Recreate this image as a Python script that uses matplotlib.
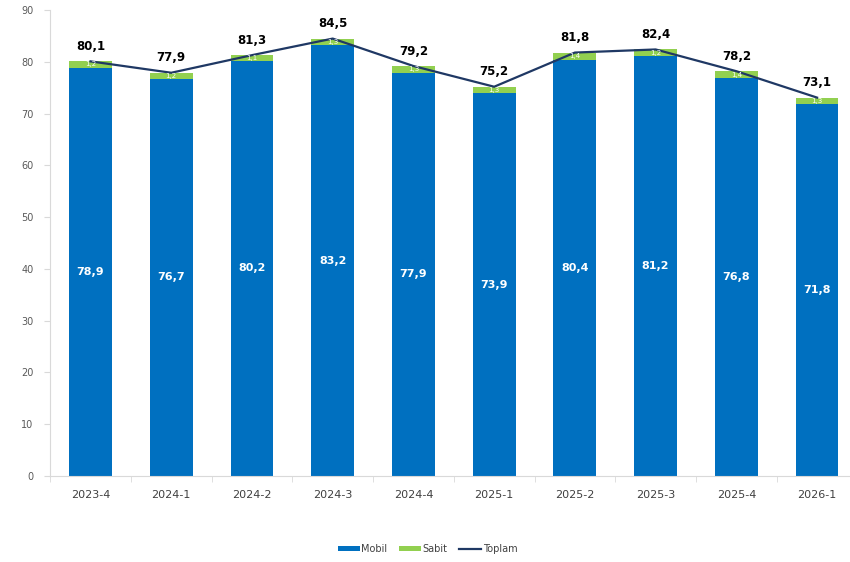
import numpy as np
import matplotlib
matplotlib.use("Agg")
import matplotlib.pyplot as plt

# Quarterly data
periods = ["2023-4", "2024-1", "2024-2", "2024-3", "2024-4",
           "2025-1", "2025-2", "2025-3", "2025-4", "2026-1"]
mobil = [78.9, 76.7, 80.2, 83.2, 77.9, 73.9, 80.4, 81.2, 76.8, 71.8]
sabit = [1.2, 1.2, 1.1, 1.3, 1.3, 1.3, 1.4, 1.2, 1.4, 1.3]
toplam = [80.1, 77.9, 81.3, 84.5, 79.2, 75.2, 81.8, 82.4, 78.2, 73.1]

fmt = lambda v: f"{v:.1f}".replace(".", ",")

fig = plt.figure(figsize=(8.5, 5.62), dpi=100)
ax = fig.add_axes([0.059, 0.153, 0.945, 0.829])

x = np.arange(len(periods))
w = 0.53
ax.bar(x, mobil, w, color="#0070C0", label="Mobil", zorder=2)
ax.bar(x, sabit, w, bottom=mobil, color="#92D050", label="Sabit", zorder=2)
ax.plot(x, toplam, color="#1F3864", lw=1.6, label="Toplam", zorder=3)

for i in range(len(periods)):
    ax.text(x[i], mobil[i] / 2, fmt(mobil[i]), ha="center", va="center",
            color="white", fontsize=8, fontweight="bold", zorder=4)
    ax.text(x[i], mobil[i] + sabit[i] / 2, fmt(sabit[i]), ha="center", va="center",
            color="white", fontsize=5, zorder=4)
    ax.text(x[i], toplam[i] + 1.6, fmt(toplam[i]), ha="center", va="bottom",
            color="black", fontsize=8.5, fontweight="bold", zorder=4)

ax.set_ylim(0, 90)
ax.set_yticks(range(0, 91, 10))
ax.set_xlim(-0.5, 9.45)
ax.set_xticks(x)
ax.set_xticklabels(periods)
ax.set_xticks(np.arange(-0.5, 9.5, 1), minor=True)
ax.tick_params(axis="x", which="major", length=0, pad=10, labelsize=8, labelcolor="#404040")
ax.tick_params(axis="x", which="minor", length=4, color="#D9D9D9")
ax.tick_params(axis="y", length=4, color="#D9D9D9", labelsize=7, labelcolor="#595959", pad=8)

for s in ["top", "right"]:
    ax.spines[s].set_visible(False)
ax.spines["left"].set_color("#D9D9D9")
ax.spines["bottom"].set_color("#D9D9D9")

h, l = ax.get_legend_handles_labels()
order = [1, 2, 0]
ax.legend([h[k] for k in order], [l[k] for k in order],
          loc="center", bbox_to_anchor=(0.47, -0.157), ncol=3, frameon=False,
          fontsize=7, handlelength=2.2, handleheight=0.5, columnspacing=1.2,
          handletextpad=0.2, labelcolor="#404040")

fig.savefig("out.png", dpi=100)
